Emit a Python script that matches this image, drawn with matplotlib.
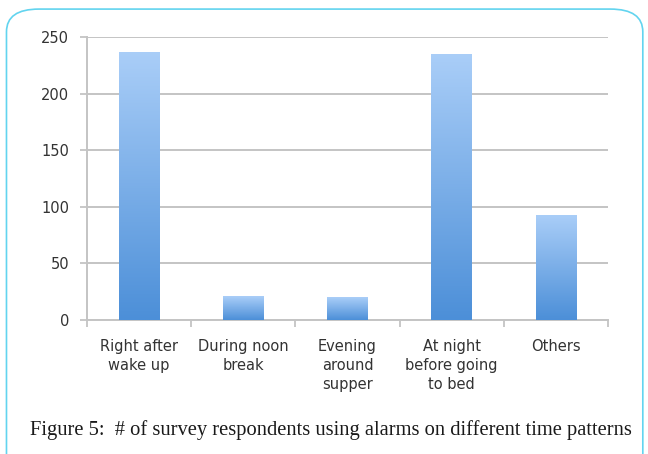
import numpy as np
import matplotlib.pyplot as plt
from matplotlib.patches import FancyBboxPatch
from matplotlib.colors import LinearSegmentedColormap

categories = ['Right after\nwake up', 'During noon\nbreak', 'Evening\naround\nsupper',
              'At night\nbefore going\nto bed', 'Others']
respondents = [237, 21, 20, 235, 93]
yticks = [0, 50, 100, 150, 200, 250]
caption = 'Figure 5:  # of survey respondents using alarms on different time patterns'

fig = plt.figure(figsize=(6.48, 4.54), dpi=100)

# rounded frame around the figure
frame = FancyBboxPatch((0.010, -0.05), 0.982, 1.03, boxstyle='round,pad=0,rounding_size=0.05',
                       transform=fig.transFigure, fill=False, edgecolor='#62d4ef', lw=1.2)
fig.patches.append(frame)

ax = fig.add_axes([87 / 648, 1 - 320 / 454, (608 - 87) / 648, (320 - 37) / 454])
x = np.arange(len(categories))
bars = ax.bar(x, respondents, width=0.39, color='none', zorder=3)

cmap = LinearSegmentedColormap.from_list('barfade', ['#4c8fd8', '#aacef8'])
grad = np.linspace(0, 1, 256).reshape(-1, 1)
for b in bars:
    x0, y0 = b.get_x(), b.get_y()
    w, h = b.get_width(), b.get_height()
    im = ax.imshow(grad, cmap=cmap, origin='lower', aspect='auto',
                   extent=[x0, x0 + w, y0, y0 + h], zorder=3)
    im.set_clip_path(b)

ax.set_xlim(-0.5, len(categories) - 0.5)
ax.set_ylim(0, 250)
ax.set_yticks(yticks)
ax.yaxis.grid(True, color='#c4c4c4', lw=1.4, zorder=0)
ax.set_axisbelow(True)
for s in ['top', 'right']:
    ax.spines[s].set_visible(False)
for s in ['left', 'bottom']:
    ax.spines[s].set_color('#c4c4c4')
    ax.spines[s].set_linewidth(1.4)

ax.set_xticks(np.arange(len(categories) + 1) - 0.5, minor=True)
ax.set_xticks(x)
ax.set_xticklabels(categories, fontsize=10.5, color='#333333', linespacing=1.3,
                   verticalalignment='top')
ax.tick_params(axis='x', which='major', length=0, pad=14)
ax.tick_params(axis='x', which='minor', length=5, color='#c4c4c4', width=1.3)
ax.tick_params(axis='y', length=5, color='#c4c4c4', width=1.3, labelsize=10.5,
               labelcolor='#333333', pad=8)
ax.set_xlim(-0.5, len(categories) - 0.5)

fig.text(331 / 648, 1 - 430 / 454, caption, ha='center', va='center',
         family='Liberation Serif', fontsize=14.8, color='#1a1a1a')

fig.savefig('out.png', dpi=100)
